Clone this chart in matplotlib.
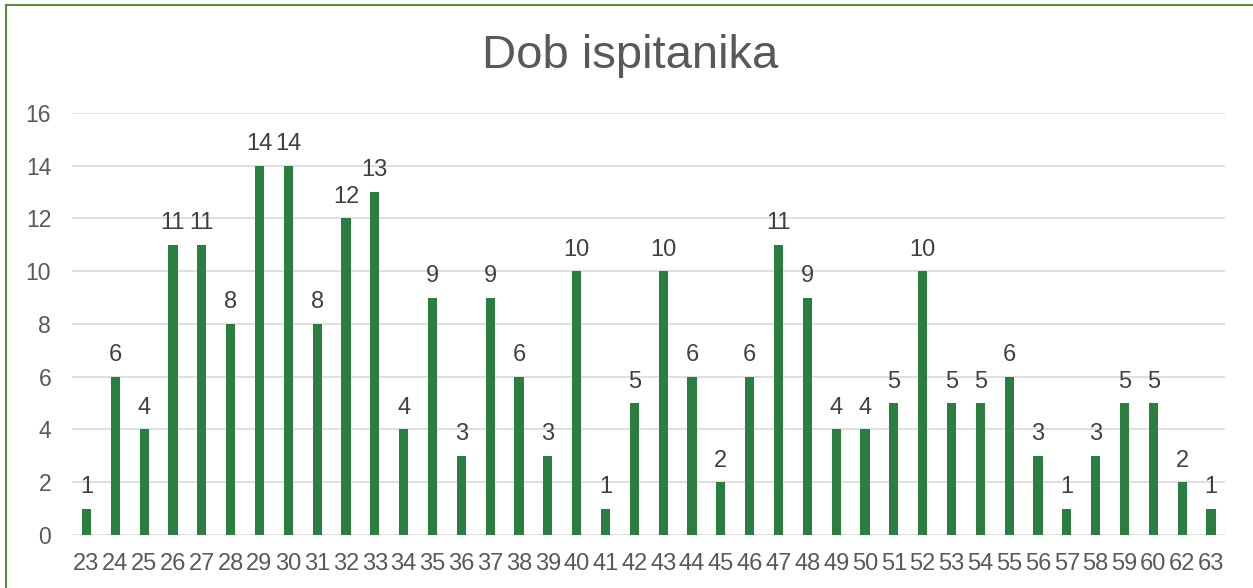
import numpy as np
import matplotlib
matplotlib.use('Agg')
import matplotlib.pyplot as plt
from matplotlib.patches import Rectangle

plt.rcParams['font.family'] = ['Liberation Sans', 'DejaVu Sans']

ages = [str(a) for a in range(23, 61)] + ['62', '63']
counts = [1, 6, 4, 11, 11, 8, 14, 14, 8, 12, 13, 4, 9, 3, 9, 6, 3, 10, 1, 5,
          10, 6, 2, 6, 11, 9, 4, 4, 5, 10, 5, 5, 6, 3, 1, 3, 5, 5, 2, 1]

title = 'Dob ispitanika'
bar_color = '#2A7E3F'
text_color = '#595959'

fig = plt.figure(figsize=(12.53, 5.88), dpi=100)
fig.patches.append(Rectangle((0.005, -0.1), 1.1, 1.092, transform=fig.transFigure,
                             fill=False, edgecolor='#5B8C3A', linewidth=1.5))
ax = fig.add_axes([0.0575, 0.0901, 0.9205, 0.7179])

x = np.arange(len(ages))
bars = ax.bar(x, counts, width=0.32, color=bar_color, zorder=3)
for xi, v in zip(x, counts):
    ax.text(xi, v + 0.4, str(v), ha='center', va='bottom', fontsize=17, color='#404040')

ax.set_xlim(-0.5, len(ages) - 0.5)
ax.set_ylim(0, 16)
ax.set_yticks(np.arange(0, 17, 2))
ax.set_xticks(x)
ax.set_xticklabels(ages)
ax.tick_params(axis='both', length=0, labelsize=17, colors=text_color)
ax.tick_params(axis='y', labelsize=16.5, pad=15)
ax.tick_params(axis='x', pad=13)
ax.grid(axis='y', color='#D9D9D9', linewidth=1.2, zorder=0)
for s in ax.spines.values():
    s.set_visible(False)

fig.text(0.503, 0.884, title, ha='center', va='baseline', fontsize=34, color=text_color)

fig.savefig('out.png', dpi=100)
